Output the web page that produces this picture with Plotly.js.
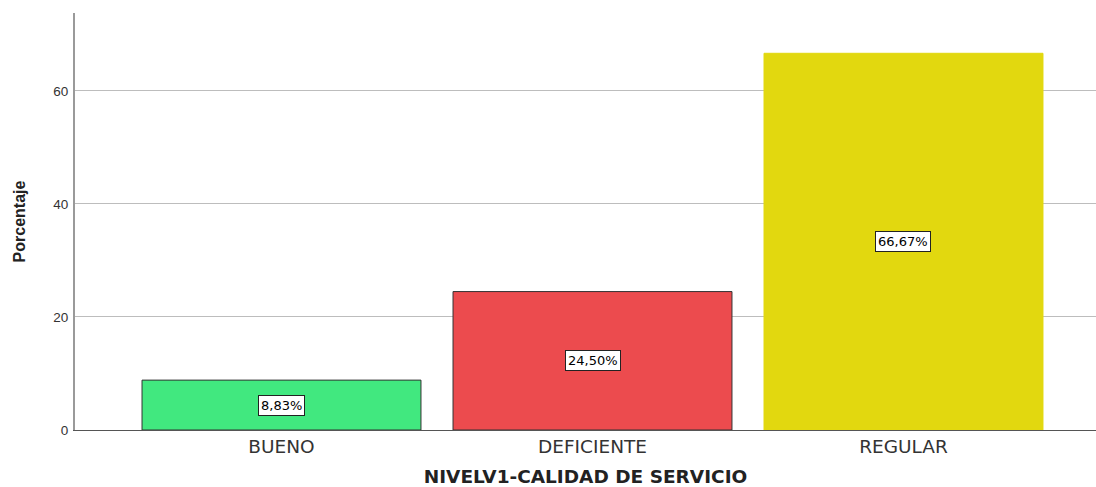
<!DOCTYPE html>
<html>
<head>
<meta charset="utf-8">
<script src="https://cdn.plot.ly/plotly-3.0.1.min.js"></script>
<style>
  body { margin: 0; background: #fff; }
  #chart { width: 1096px; height: 487px; }
</style>
</head>
<body>
<div id="chart"></div>
<script>
var categories = ['BUENO', 'DEFICIENTE', 'REGULAR'];
var percents = [8.83, 24.50, 66.67];
var barColors = ['#41e87f', '#ec4b4e', '#e2d80f'];
var edgeColors = ['#333333', '#333333', '#e2d80f'];
var yTicks = [0, 20, 40, 60];

var wide = 'DejaVu Sans, Verdana, sans-serif';

// labels sit at half height of each bar, comma decimal like the source
var notes = categories.map(function(c, i) {
  return {
    x: c, y: percents[i] / 2, xref: 'x', yref: 'y',
    text: percents[i].toFixed(2).replace('.', ',') + '%',
    showarrow: false,
    bgcolor: '#ffffff', bordercolor: '#222222', borderwidth: 1, borderpad: 2,
    font: { family: wide, size: 13, color: '#000' }
  };
});

var trace = {
  type: 'bar',
  x: categories,
  y: percents,
  marker: { color: barColors, line: { color: edgeColors, width: 1 } },
  hoverinfo: 'none'
};

var layout = {
  width: 1096, height: 487,
  margin: { l: 75, r: 0, t: 13, b: 57 },
  paper_bgcolor: '#fff', plot_bgcolor: '#fff',
  bargap: 0.103,
  showlegend: false,
  font: { family: 'Arial, Liberation Sans, sans-serif', color: '#222' },
  xaxis: {
    range: [-0.664, 2.619],
    showgrid: false, zeroline: false,
    showline: true, linecolor: '#555', linewidth: 1,
    ticks: '',
    automargin: false,
    tickfont: { family: wide, size: 18.5, color: '#333' },
    title: { text: '<b>NIVELV1-CALIDAD DE SERVICIO</b>', font: { family: wide, size: 18.5, color: '#222' }, standoff: 15 }
  },
  yaxis: {
    range: [0, 73.8],
    tickvals: yTicks,
    showgrid: true, gridcolor: '#bdbdbd', gridwidth: 1,
    zeroline: false,
    showline: true, linecolor: '#9a9a9a', linewidth: 2,
    ticks: '',
    ticklabelstandoff: 2,
    automargin: false,
    tickfont: { size: 13.5, color: '#333' },
    title: { text: '<b>Porcentaje</b>', font: { size: 16, color: '#222' }, standoff: 24 }
  },
  annotations: notes
};

Plotly.newPlot('chart', [trace], layout, { displayModeBar: false, staticPlot: true });
</script>
</body>
</html>
